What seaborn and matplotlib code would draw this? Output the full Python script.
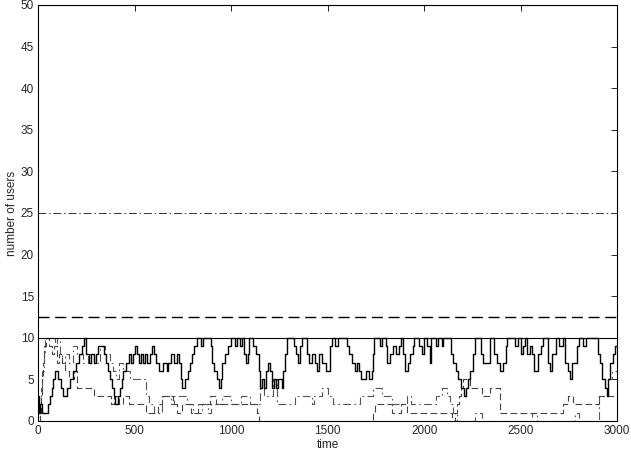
import matplotlib
matplotlib.use("Agg")
import matplotlib.pyplot as plt
import seaborn as sns
import pandas as pd

# ---------------- data ----------------
solid_pts = [(0,3),(6,1),(12,2),(18,1),(50,2),(62,3),(70,4),(78,5),(88,6),(105,5),(118,4),(130,3),(150,4),(165,5),
    (180,6),(195,7),(212,8),(225,9),(235,10),(248,8),(262,7),(275,8),(290,7),(302,8),(312,9),(340,8),(352,7),(362,6),
    (372,5),(380,4),(392,3),(400,2),(412,3),(422,4),(432,5),(442,6),(455,7),(470,8),(482,7),(492,8),(502,9),(512,8),
    (522,7),(532,8),(542,7),(552,8),(562,7),(580,8),(588,9),(600,8),(612,7),(628,6),(645,7),(665,6),(675,7),(690,8),
    (705,7),(718,8),(728,7),(738,5),(745,4),(760,5),(775,6),(785,7),(795,8),(808,9),(822,10),(845,9),(852,10),(895,9),
    (903,7),(912,6),(925,5),(935,4),(948,5),(955,7),(968,8),(985,9),(998,10),(1020,9),(1030,10),(1045,9),(1055,10),
    (1065,8),(1075,7),(1085,8),(1095,10),(1115,9),(1128,8),(1142,6),(1150,4),(1160,5),(1172,4),(1180,6),(1190,7),
    (1200,6),(1212,4),(1222,5),(1232,4),(1245,5),(1262,4),(1270,6),(1280,8),(1288,10),(1325,9),(1335,8),(1345,7),
    (1358,9),(1368,10),(1395,8),(1405,7),(1420,8),(1432,7),(1445,6),(1455,8),(1470,7),(1490,6),(1510,9),(1520,10),
    (1540,9),(1552,10),(1598,9),(1612,8),(1628,7),(1642,6),(1650,7),(1660,6),(1672,5),(1700,6),(1712,5),(1728,6),
    (1734,8),(1740,10),(1770,9),(1782,10),(1800,9),(1808,7),(1822,8),(1840,9),(1855,8),(1868,9),(1878,10),(1892,8),
    (1900,6),(1915,7),(1928,8),(1940,9),(1950,10),(1975,9),(1990,8),(2000,10),(2015,9),(2028,7),(2038,10),(2060,9),
    (2070,10),(2090,9),(2100,10),(2140,8),(2150,7),(2165,6),(2178,5),(2190,4),(2205,3),(2215,4),(2228,5),(2240,6),
    (2252,8),(2262,10),(2295,8),(2305,7),(2340,10),(2362,8),(2375,7),(2392,6),(2410,7),(2422,9),(2430,10),(2470,9),
    (2485,10),(2500,8),(2512,9),(2522,10),(2532,8),(2550,9),(2560,8),(2570,6),(2590,8),(2605,9),(2618,10),(2640,7),
    (2650,6),(2665,8),(2685,10),(2700,9),(2722,10),(2730,7),(2748,6),(2758,5),(2768,7),(2790,9),(2805,10),(2825,9),
    (2840,10),(2902,8),(2910,7),(2922,5),(2935,4),(2948,3),(2955,5),(2965,7),(2978,8),(2988,9),(3000,9)]

dashed_pts = [(0,0),(8,1),(14,3),(20,5),(26,7),(32,9),(40,10),(58,9),(70,8),(82,9),(95,7),(110,8),(125,7),(140,6),
    (160,5),(185,6),(200,4),(290,3),(375,2),(395,3),(420,2),(440,3),(470,2),(560,1),(620,2),(640,3),(700,2),(720,1),
    (745,2),(790,1),(830,2),(890,3),(920,2),(1135,1),(1145,0),(1737,1),(1745,2),(1832,1),(1880,2),(1910,1),(2143,0),
    (2162,1),(2172,2),(2182,3),(2192,4),(2200,5),(2238,4),(2300,3),(2340,4),(2393,1),(2720,2),(2745,3),(2770,2),
    (2905,3),(3000,3)]

dashdot_pts = [(0,0),(10,2),(16,4),(22,6),(28,8),(34,10),(85,9),(100,10),(112,8),(125,7),(140,8),(160,7),(180,9),
    (200,8),(230,7),(260,8),(290,7),(320,9),(345,8),(370,7),(390,6),(405,5),(420,7),(440,6),(476,5),(560,3),(575,2),
    (600,1),(640,3),(690,2),(705,3),(770,2),(800,1),(850,2),(880,1),(895,2),(950,3),(1000,2),(1050,3),(1100,2),
    (1150,4),(1170,3),(1215,5),(1240,2),(1330,3),(1420,2),(1430,3),(1470,4),(1500,3),(1530,2),(1668,3),(1737,4),
    (1780,3),(1832,2),(1910,3),(1930,2),(2060,3),(2090,4),(2120,3),(2135,2),(2150,1),(2170,0),(2265,1),(2300,0),
    (2560,1),(2585,0),(2780,1),(2800,0),(2905,3),(2955,5),(2975,6),(3000,6)]

limits = [10, 12.5, 25, 50]
x_ticks = [0, 500, 1000, 1500, 2000, 2500, 3000]
y_ticks = [0, 5, 10, 15, 20, 25, 30, 35, 40, 45, 50]

# ---------------- plotting ----------------
sns.set_style("white")
plt.rcParams['font.family'] = ['Liberation Sans', 'DejaVu Sans']

fig = plt.figure(figsize=(6.31, 4.54), dpi=100)
ax = fig.add_axes([0.0605, 0.0727, 0.9175, 0.9163])

def frame(pts):
    return pd.DataFrame(pts, columns=["time", "users"])

sns.lineplot(data=frame(dashdot_pts), x="time", y="users", ax=ax, drawstyle="steps-post",
             color="#555555", linewidth=0.8, linestyle=(0, (7, 3, 1.5, 3)), estimator=None)
sns.lineplot(data=frame(dashed_pts), x="time", y="users", ax=ax, drawstyle="steps-post",
             color="#444444", linewidth=0.8, linestyle=(0, (6, 3)), estimator=None)
sns.lineplot(data=frame(solid_pts), x="time", y="users", ax=ax, drawstyle="steps-post",
             color="black", linewidth=1.0, estimator=None)

ax.axhline(limits[0], color="black", linewidth=0.8)
ax.axhline(limits[1], color="black", linewidth=1.0, linestyle=(0, (8, 4)))
ax.axhline(limits[2], color="#333333", linewidth=0.7, linestyle=(0, (8, 3, 1.5, 3)))
ax.axhline(limits[3], color="black", linewidth=0.8)

ax.set_xlim(0, 3000)
ax.set_ylim(0, 50)
ax.set_xticks(x_ticks)
ax.set_yticks(y_ticks)
ax.set_xlabel("time", fontsize=8.5, labelpad=1)
ax.set_ylabel("number of users", fontsize=8.5, labelpad=2)
ax.tick_params(direction="in", length=4, width=0.6, top=True, right=True, labelsize=8.5, pad=3,
               color="black")
for s in ax.spines.values():
    s.set_visible(True)
    s.set_color("black")
    s.set_linewidth(0.8)

fig.savefig("out.png", dpi=100, facecolor="white")
